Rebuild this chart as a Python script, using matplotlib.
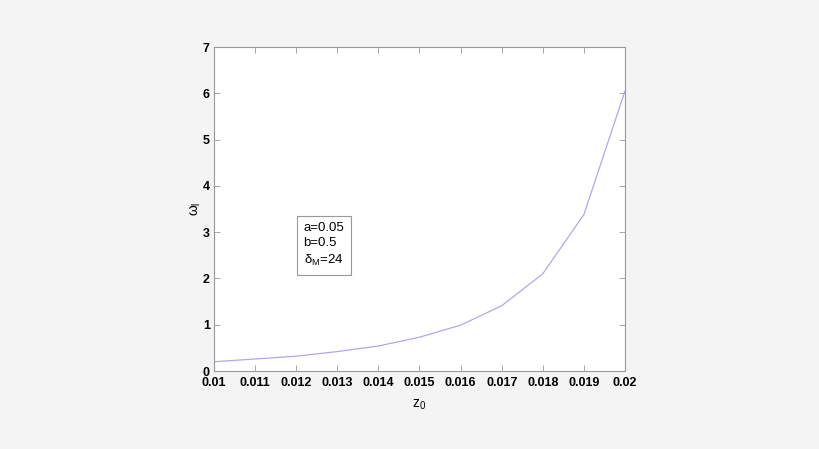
import matplotlib
matplotlib.use("Agg")
import matplotlib.pyplot as plt

z0 = [0.010, 0.011, 0.012, 0.013, 0.014, 0.015, 0.016, 0.017, 0.018, 0.019, 0.020]
omega = [0.20, 0.26, 0.32, 0.42, 0.54, 0.73, 0.99, 1.41, 2.10, 3.38, 6.05]
xticks = [0.01, 0.011, 0.012, 0.013, 0.014, 0.015, 0.016, 0.017, 0.018, 0.019, 0.02]
xticklabels = ["0.01", "0.011", "0.012", "0.013", "0.014", "0.015", "0.016", "0.017", "0.018", "0.019", "0.02"]
yticks = [0, 1, 2, 3, 4, 5, 6, 7]

plt.rcParams['font.family'] = ['Liberation Sans', 'DejaVu Sans']
plt.rcParams['mathtext.fontset'] = 'custom'
plt.rcParams['mathtext.rm'] = 'Liberation Sans'
plt.rcParams['mathtext.it'] = 'Liberation Sans'

fig = plt.figure(figsize=(8.2, 4.49), dpi=100, facecolor='#f4f4f4')
ax = fig.add_axes([214/820, 1-371/449, (625-214)/820, (371-47)/449])
ax.set_facecolor('white')
ax.plot(z0, omega, color='#aaaaee', lw=0.9)
ax.set_xlim(0.01, 0.02)
ax.set_ylim(0, 7)
ax.set_xticks(xticks)
ax.set_xticklabels(xticklabels)
ax.set_yticks(yticks)
for s in ax.spines.values():
    s.set_color('#999999')
    s.set_linewidth(0.8)
ax.tick_params(direction='in', length=4, width=0.6, color='#999999', top=True, right=True,
               labelsize=9, labelcolor='black')
ax.tick_params(axis='x', pad=4.5)
ax.tick_params(axis='y', pad=3)
for lab in ax.get_xticklabels() + ax.get_yticklabels():
    lab.set_fontweight('bold')
ax.set_xlabel('z$_0$', fontsize=10, labelpad=6)
ax.set_ylabel('$\\omega_l$', fontsize=10, labelpad=0)
ax.text(0.01218, 3.22, 'a=0.05\nb=0.5\n$\\delta_M$=24', fontsize=9.5, va='top', ha='left',
        linespacing=1.35,
        bbox=dict(boxstyle='square,pad=0.5', facecolor='white', edgecolor='#999999', linewidth=0.8))
fig.savefig('out.png', dpi=100, facecolor=fig.get_facecolor())
